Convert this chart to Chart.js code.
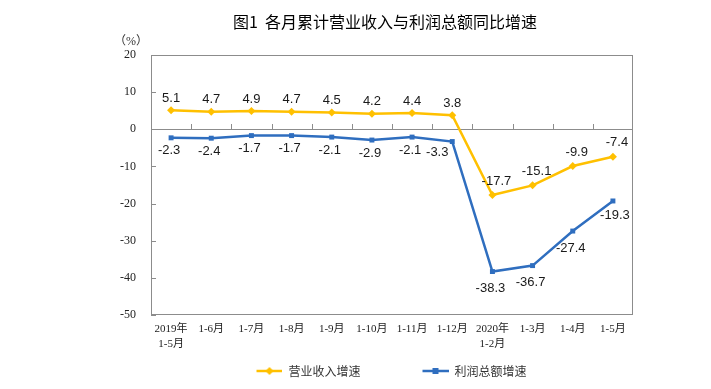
<!doctype html>
<html lang="zh">
<head>
  <meta charset="utf-8" />
  <script src="https://cdn.jsdelivr.net/npm/chart.js@4.4.1/dist/chart.umd.min.js"></script>
  <style>
    html, body { margin: 0; padding: 0; background: #ffffff; }
    .wrap { width: 711px; height: 389px; }
  </style>
</head>
<body>
  <div class="wrap"><canvas id="chart"></canvas></div>
  <script>
    // data
    const categories = [
      ['2019年', '1-5月'], '1-6月', '1-7月', '1-8月', '1-9月', '1-10月',
      '1-11月', '1-12月', ['2020年', '1-2月'], '1-3月', '1-4月', '1-5月'
    ];
    const revenueGrowth = [5.1, 4.7, 4.9, 4.7, 4.5, 4.2, 4.4, 3.8, -17.7, -15.1, -9.9, -7.4];
    const profitGrowth = [-2.3, -2.4, -1.7, -1.7, -2.1, -2.9, -2.1, -3.3, -38.3, -36.7, -27.4, -19.3];
    const yTicks = [20, 10, 0, -10, -20, -30, -40, -50];
    const seriesNames = ['营业收入增速', '利润总额增速'];

    const YELLOW = '#FFC000';
    const BLUE = '#2F6EBF';
    const FRAME = '#8c8c8c';
    const SERIF = '"Liberation Serif", "Noto Sans CJK SC", serif';
    const SANS = '"Liberation Sans", Arial, sans-serif';

    function legendMarker(color, shape) {
      const c = document.createElement('canvas');
      c.width = 76;
      c.height = 12;
      const g = c.getContext('2d');
      g.strokeStyle = color;
      g.lineWidth = 2.5;
      g.beginPath();
      g.moveTo(50, 6);
      g.lineTo(76, 6);
      g.stroke();
      g.fillStyle = color;
      if (shape === 'diamond') {
        g.beginPath();
        g.moveTo(63, 2); g.lineTo(67, 6); g.lineTo(63, 10); g.lineTo(59, 6);
        g.closePath();
        g.fill();
      } else {
        g.fillRect(60, 3, 6, 6);
      }
      return c;
    }

    const decorPlugin = {
      id: 'decor',
      beforeDatasetsDraw(chart) {
        const { ctx, chartArea: a, scales } = chart;
        const y0 = scales.y.getPixelForValue(0);
        ctx.save();
        ctx.strokeStyle = FRAME;
        ctx.lineWidth = 1;
        ctx.strokeRect(a.left + 0.5, a.top + 0.5, a.right - a.left - 1, a.bottom - a.top - 1);
        ctx.beginPath();
        ctx.moveTo(a.left, Math.round(y0) + 0.5);
        ctx.lineTo(a.right, Math.round(y0) + 0.5);
        // category boundary ticks on the zero line
        for (let i = 1; i < categories.length; i++) {
          const x = Math.round((scales.x.getPixelForTick(i - 1) + scales.x.getPixelForTick(i)) / 2) + 0.5;
          ctx.moveTo(x, Math.round(y0));
          ctx.lineTo(x, Math.round(y0) - 5);
        }
        // value ticks on the left edge
        yTicks.forEach(v => {
          const y = Math.round(scales.y.getPixelForValue(v)) + 0.5;
          ctx.moveTo(a.left, y);
          ctx.lineTo(a.left + 5, y);
        });
        ctx.stroke();
        ctx.restore();
      },
      afterDatasetsDraw(chart) {
        const { ctx } = chart;
        ctx.save();
        ctx.font = '13px ' + SANS;
        ctx.fillStyle = '#1a1a1a';
        ctx.textAlign = 'center';
        ctx.textBaseline = 'middle';
        chart.getDatasetMeta(0).data.forEach((pt, i) => {
          const dx = i >= 8 ? 4 : 0;
          ctx.fillText(revenueGrowth[i].toFixed(1), pt.x + dx, pt.y - (i >= 8 ? 14 : 12));
        });
        chart.getDatasetMeta(1).data.forEach((pt, i) => {
          let dx = -2, dy = 13;
          if (i === 7) { dx = -15; dy = 11; }
          if (i >= 8) { dx = -2; dy = 17; }
          if (i === 11) { dx = 2; dy = 14; }
          ctx.fillText(profitGrowth[i].toFixed(1), pt.x + dx, pt.y + dy);
        });
        ctx.restore();
      },
      afterDraw(chart) {
        const { ctx } = chart;
        ctx.save();
        ctx.fillStyle = '#000';
        ctx.textAlign = 'center';
        ctx.textBaseline = 'middle';
        ctx.font = '16px "Noto Sans CJK SC", sans-serif';
        ctx.fillText('图1  各月累计营业收入与利润总额同比增速', 385, 22);
        ctx.fillStyle = '#333';
        ctx.font = '12px ' + SERIF;
        ctx.fillText('（%）', 131, 42);
        ctx.restore();
      }
    };

    new Chart(document.getElementById('chart'), {
      type: 'line',
      data: {
        labels: categories,
        datasets: [
          {
            label: seriesNames[0],
            data: revenueGrowth,
            borderColor: YELLOW,
            backgroundColor: YELLOW,
            borderWidth: 2.5,
            pointStyle: 'rectRot',
            pointRadius: 4,
            pointBorderWidth: 0,
            tension: 0,
          },
          {
            label: seriesNames[1],
            data: profitGrowth,
            borderColor: BLUE,
            backgroundColor: BLUE,
            borderWidth: 2.5,
            pointStyle: 'rect',
            pointRadius: 3.5,
            pointBorderWidth: 0,
            tension: 0,
          },
        ],
      },
      options: {
        responsive: true,
        maintainAspectRatio: false,
        animation: false,
        layout: { padding: { left: 100, right: 78, top: 55, bottom: 2 } },
        plugins: {
          title: { display: false },
          tooltip: { enabled: false },
          legend: {
            position: 'bottom',
            labels: {
              usePointStyle: true,
              pointStyleWidth: 76,
              padding: 12,
              color: '#333',
              font: { size: 12, family: '"Noto Sans CJK SC", sans-serif' },
              generateLabels(chart) {
                return chart.data.datasets.map((ds, i) => ({
                  text: ds.label,
                  pointStyle: legendMarker(ds.borderColor, i === 0 ? 'diamond' : 'square'),
                  fillStyle: ds.borderColor,
                  strokeStyle: ds.borderColor,
                  lineWidth: 0,
                  fontColor: '#333',
                  datasetIndex: i,
                }));
              },
            },
          },
        },
        scales: {
          x: {
            offset: true,
            grid: { display: false, drawTicks: false },
            border: { display: false },
            ticks: {
              color: '#222',
              padding: 6,
              maxRotation: 0,
              autoSkip: false,
              font: { size: 11, family: SERIF, lineHeight: 1.4 },
            },
            afterFit(scale) { scale.height = 38; },
          },
          y: {
            min: Math.min(...yTicks),
            max: Math.max(...yTicks),
            grid: { display: false, drawTicks: false },
            border: { display: false },
            ticks: {
              stepSize: 10,
              color: '#222',
              padding: 15,
              font: { size: 12, family: SERIF },
            },
            afterFit(scale) { scale.width = 51; },
          },
        },
      },
      plugins: [decorPlugin],
    });
  </script>
</body>
</html>
